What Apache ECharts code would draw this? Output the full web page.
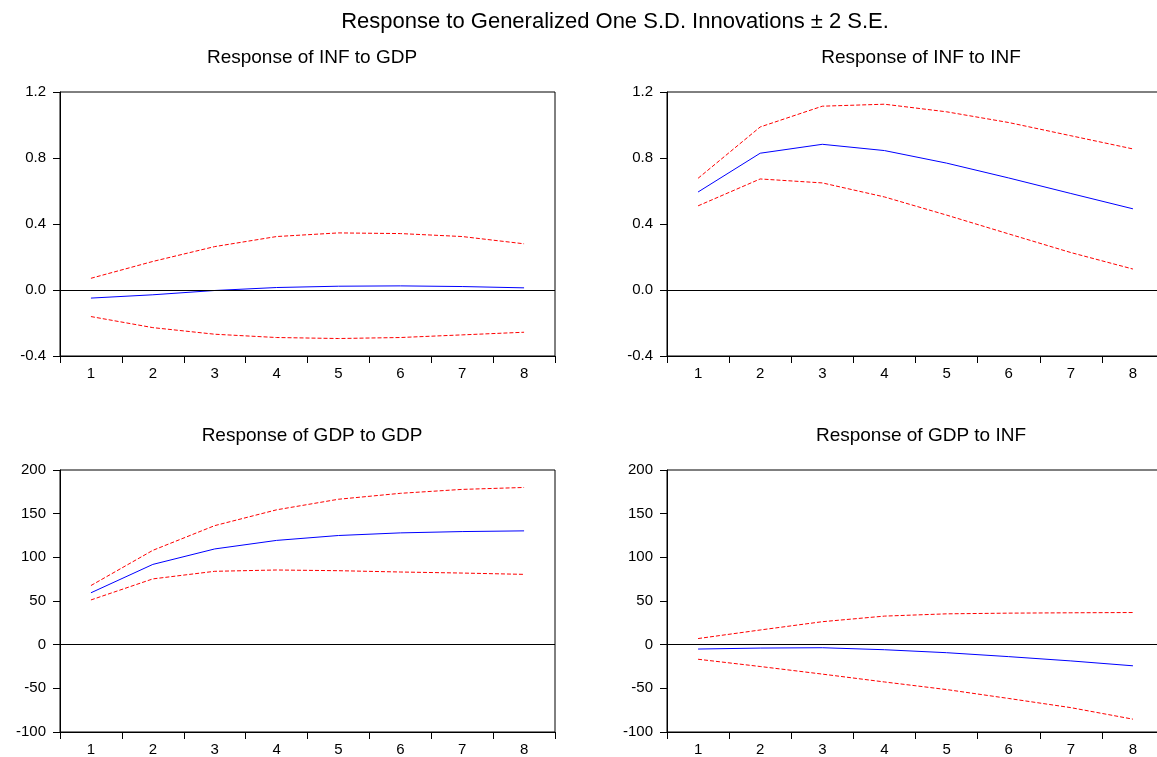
<!DOCTYPE html>
<html>
<head>
<meta charset="utf-8">
<title>Impulse responses</title>
<script src="https://cdn.jsdelivr.net/npm/echarts@6/dist/echarts.min.js"></script>
<style>
  html, body { margin: 0; padding: 0; background: #fff; overflow: hidden; }
  /* a bit wider than the window: the right panels run past the edge, as in the original */
  #chart { width: 1172px; height: 757px; }
</style>
</head>
<body>
<div id="chart"></div>
<script>
// periods after the shock
var periods = ['1', '2', '3', '4', '5', '6', '7', '8'];

// Response of INF to GDP
var infGdpResp  = [-0.049, -0.029, -0.003, 0.015, 0.023, 0.025, 0.021, 0.013];
var infGdpUpper = [0.071, 0.173, 0.263, 0.324, 0.346, 0.342, 0.324, 0.280];
var infGdpLower = [-0.161, -0.228, -0.268, -0.288, -0.294, -0.288, -0.272, -0.256];

// Response of INF to INF
var infInfResp  = [0.594, 0.829, 0.883, 0.845, 0.769, 0.679, 0.585, 0.492];
var infInfUpper = [0.677, 0.988, 1.114, 1.126, 1.080, 1.015, 0.935, 0.855];
var infInfLower = [0.510, 0.673, 0.649, 0.564, 0.454, 0.340, 0.227, 0.127];

// Response of GDP to GDP
var gdpGdpResp  = [59.4, 91.9, 109.6, 119.4, 125.0, 128.0, 129.5, 130.3];
var gdpGdpUpper = [67.7, 108.0, 136.3, 154.4, 166.5, 173.3, 177.8, 180.0];
var gdpGdpLower = [51.2, 75.3, 84.0, 85.5, 84.7, 83.2, 82.0, 80.5];

// Response of GDP to INF
var gdpInfResp  = [-5.0, -3.9, -3.5, -5.8, -9.2, -13.7, -18.6, -24.2];
var gdpInfUpper = [7.0, 16.8, 26.3, 32.7, 35.3, 36.1, 36.5, 36.8];
var gdpInfLower = [-16.7, -25.0, -33.7, -42.7, -51.4, -61.6, -72.1, -85.3];

// y scales
var infAxis = { min: -0.4, max: 1.2, interval: 0.4, decimals: 1 };
var gdpAxis = { min: -100, max: 200, interval: 50, decimals: 0 };

var panelTitles = ['Response of INF to GDP', 'Response of INF to INF',
                   'Response of GDP to GDP', 'Response of GDP to INF'];

var FONT = '"Liberation Sans", Arial, sans-serif';

var chart = echarts.init(document.getElementById('chart'), null, { renderer: 'canvas' });

var grids = [
  { left: 60,  top: 92,  width: 495, height: 264 },
  { left: 667, top: 92,  width: 497, height: 264 },
  { left: 60,  top: 470, width: 495, height: 265 },
  { left: 667, top: 470, width: 497, height: 265 }
];
var titlePos = [
  { x: 307, y: 43 },
  { x: 916, y: 43 },
  { x: 307, y: 421 },
  { x: 916, y: 421 }
];
var panels = [
  { resp: infGdpResp, up: infGdpUpper, lo: infGdpLower, axis: infAxis },
  { resp: infInfResp, up: infInfUpper, lo: infInfLower, axis: infAxis },
  { resp: gdpGdpResp, up: gdpGdpUpper, lo: gdpGdpLower, axis: gdpAxis },
  { resp: gdpInfResp, up: gdpInfUpper, lo: gdpInfLower, axis: gdpAxis }
];

var titles = [{
  text: 'Response to Generalized One S.D. Innovations \u00b1 2 S.E.',
  left: 610, top: 6, textAlign: 'center',
  textStyle: { fontFamily: FONT, fontSize: 22, fontWeight: 'normal', color: '#000' }
}];
var xAxes = [], yAxes = [], series = [];

panels.forEach(function (p, i) {
  grids[i].show = true;
  grids[i].borderColor = '#000';
  grids[i].borderWidth = 1;
  grids[i].backgroundColor = 'transparent';

  titles.push({
    text: panelTitles[i],
    left: titlePos[i].x, top: titlePos[i].y, textAlign: 'center',
    textStyle: { fontFamily: FONT, fontSize: 19, fontWeight: 'normal', color: '#000' }
  });

  xAxes.push({
    type: 'category', gridIndex: i, data: periods, boundaryGap: true,
    axisLine: { show: true, onZero: false, lineStyle: { color: '#000', width: 1 } },
    axisTick: { show: true, length: 7, alignWithLabel: false, lineStyle: { color: '#000' } },
    axisLabel: { color: '#000', fontFamily: FONT, fontSize: 15, margin: 10 },
    splitLine: { show: false }
  });

  yAxes.push({
    type: 'value', gridIndex: i,
    min: p.axis.min, max: p.axis.max, interval: p.axis.interval,
    axisLine: { show: true, lineStyle: { color: '#000', width: 1 } },
    axisTick: { show: true, length: 7, lineStyle: { color: '#000' } },
    axisLabel: {
      color: '#000', fontFamily: FONT, fontSize: 15, margin: 14,
      formatter: function (v) { return v.toFixed(p.axis.decimals); }
    },
    splitLine: { show: false }
  });

  series.push({
    type: 'line', xAxisIndex: i, yAxisIndex: i, data: p.resp,
    symbol: 'none', lineStyle: { color: '#0000ff', width: 1 },
    markLine: {
      silent: true, symbol: ['none', 'none'], label: { show: false },
      lineStyle: { color: '#000', width: 1, type: 'solid' },
      data: [{ yAxis: 0 }]
    }
  });
  series.push({
    type: 'line', xAxisIndex: i, yAxisIndex: i, data: p.up,
    symbol: 'none', lineStyle: { color: '#ff0000', width: 1, type: [4, 2] }
  });
  series.push({
    type: 'line', xAxisIndex: i, yAxisIndex: i, data: p.lo,
    symbol: 'none', lineStyle: { color: '#ff0000', width: 1, type: [4, 2] }
  });
});

chart.setOption({
  animation: false,
  backgroundColor: '#fff',
  title: titles,
  grid: grids,
  xAxis: xAxes,
  yAxis: yAxes,
  series: series
});
</script>
</body>
</html>
